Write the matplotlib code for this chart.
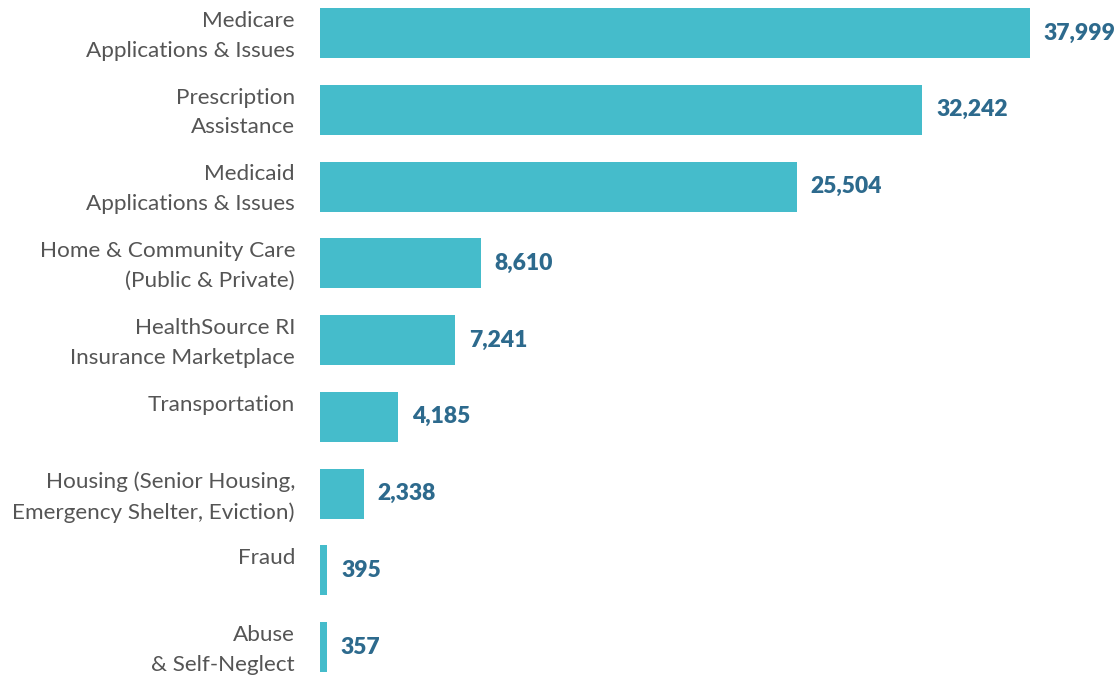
import matplotlib
matplotlib.use("Agg")
import matplotlib.pyplot as plt
import matplotlib.transforms as mtransforms

categories = [
    "Medicare\nApplications & Issues",
    "Prescription\nAssistance",
    "Medicaid\nApplications & Issues",
    "Home & Community Care\n(Public & Private)",
    "HealthSource RI\nInsurance Marketplace",
    "Transportation",
    "Housing (Senior Housing,\nEmergency Shelter, Eviction)",
    "Fraud",
    "Abuse\n& Self-Neglect",
]
values = [37999, 32242, 25504, 8610, 7241, 4185, 2338, 395, 357]
value_labels = ["37,999", "32,242", "25,504", "8,610", "7,241", "4,185", "2,338", "395", "357"]

BAR_COLOR = "#45BCCB"
LABEL_COLOR = "#555555"
VALUE_COLOR = "#2D6A8D"

W, H = 1118, 677
fig = plt.figure(figsize=(W / 100, H / 100), dpi=100)
left_px = 320
ax = fig.add_axes([left_px / W, 0, 1 - left_px / W, 1])

step = 76.75
bar_h = 50 / step
pos = list(range(len(values)))
ax.barh(pos, values, height=bar_h, color=BAR_COLOR, edgecolor="none")

xmax = values[0] * (W - left_px) / 710.0
ax.set_xlim(0, xmax)
ax.set_ylim(8 + 30 / step, -33 / step)
ax.axis("off")

lab_trans = mtransforms.offset_copy(ax.transData, fig=fig, x=-25, y=-3, units="dots")
for i, (cat, v, vl) in enumerate(zip(categories, values, value_labels)):
    ax.text(0, i - bar_h / 2, cat, transform=lab_trans, ha="right", va="top",
            fontsize=16.2, color=LABEL_COLOR, family="Lato", linespacing=1.6)
    ax.annotate(vl, xy=(v, i), xytext=(10, 0), textcoords="offset points",
                ha="left", va="center", fontsize=16.5, fontweight="heavy",
                color=VALUE_COLOR, family="Lato")

fig.savefig("out.png", dpi=100)
